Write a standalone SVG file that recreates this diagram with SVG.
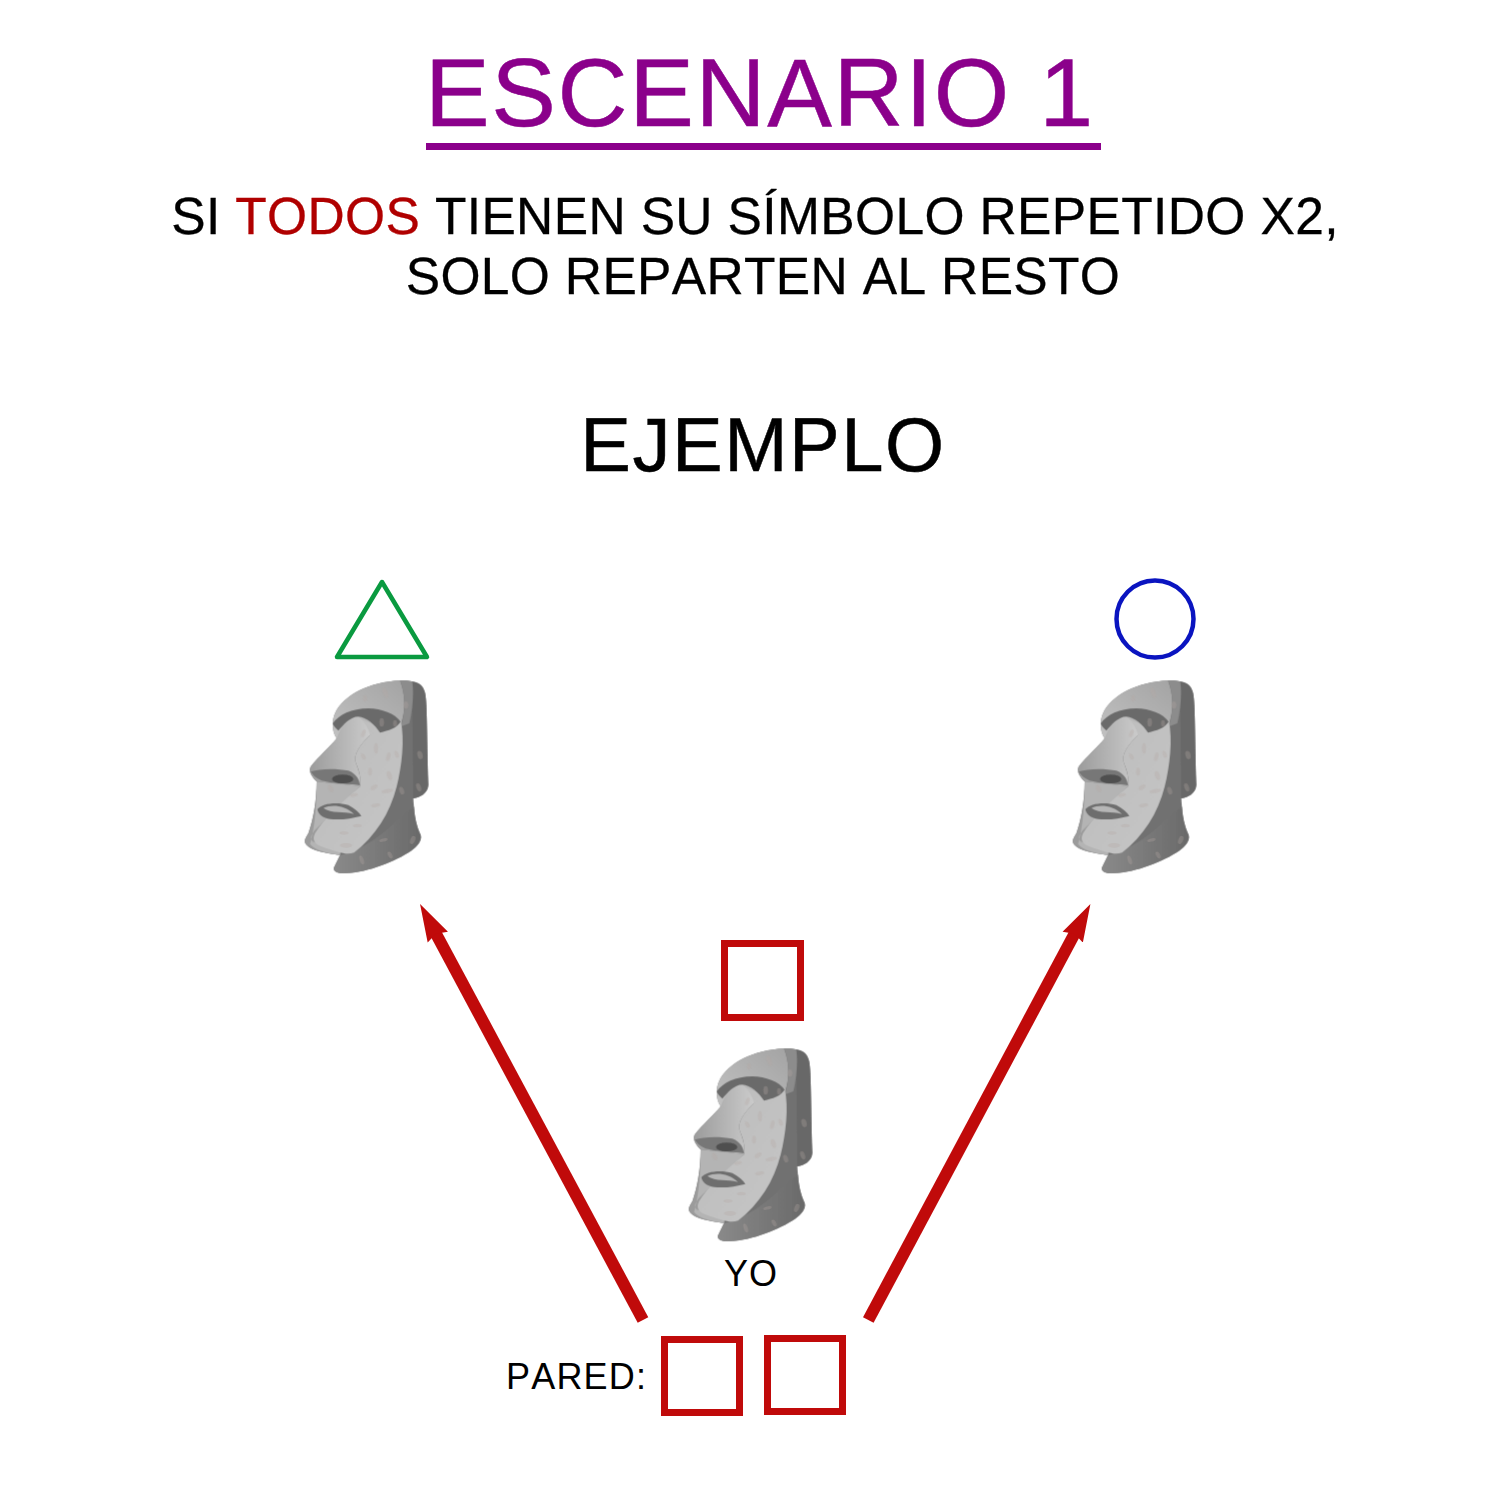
<svg xmlns="http://www.w3.org/2000/svg" width="1500" height="1500" viewBox="0 0 1500 1500">
<style>
text{font-family:"Liberation Sans",Arial,sans-serif;fill:#000;font-kerning:none}
.sq{fill:none;stroke:#c00a0a;stroke-width:7}
.arrow{fill:none;stroke:#c00a0a;stroke-width:12;marker-end:url(#head)}
.sp{fill:#b5a8a3;opacity:.3}
</style>
<defs>
<marker id="head" markerUnits="userSpaceOnUse" markerWidth="38" markerHeight="24" refX="7" refY="12" orient="auto" viewBox="0 0 38 24"><path d="M0 0.500 L37.600 12 L0 23.500 L4 12Z" fill="#c00a0a"/></marker>
<filter id="soft" x="-5%" y="-5%" width="110%" height="110%"><feGaussianBlur stdDeviation="1.800"/></filter>
<linearGradient id="face" x1="0" y1="0" x2="1" y2="1"><stop offset="0" stop-color="#bcbcbc"/><stop offset="1" stop-color="#c6c6c6"/></linearGradient>
<linearGradient id="nose" x1="0" y1="0" x2="1" y2="0"><stop offset="0" stop-color="#9c9c9c"/><stop offset="1" stop-color="#cbcbcb"/></linearGradient>
<linearGradient id="top" x1="0" y1="1" x2="1" y2="0"><stop offset="0" stop-color="#c2c2c2"/><stop offset="1" stop-color="#a4a4a4"/></linearGradient>
<linearGradient id="neck" x1="0" y1="0" x2="1" y2="0"><stop offset="0" stop-color="#8a8a8a"/><stop offset="1" stop-color="#6a6a6a"/></linearGradient>
<g id="moai" filter="url(#soft)">
<path fill="#717171" d="M360 62C395 60 425 68 434 95C442 120 440 200 445 375C443 400 420 412 400 415C402 450 405 490 422 525C428 545 405 565 385 578C330 612 250 640 190 640C170 640 158 632 162 622L180 585C140 580 95 572 80 555C70 545 75 535 85 520C100 480 110 420 110 365C95 350 85 335 92 320C115 290 150 260 170 235C155 215 155 180 165 160C190 105 270 65 360 62Z"/>
<path fill="url(#neck)" d="M180 585C230 575 300 535 350 480L402 440C403 470 410 500 422 525C428 545 405 565 385 578C330 612 250 640 190 640C170 640 158 632 162 622Z"/>
<path fill="#686868" d="M395 65C420 66 430 80 434 95C442 120 440 200 445 375C443 400 420 412 400 415L398 200Z"/>
<path fill="url(#top)" d="M360 62C375 100 380 150 360 200L170 235C155 215 155 180 165 160C190 105 270 65 360 62Z"/>
<path fill="#8c8c8c" d="M360 62C375 60 385 62 397 65C402 100 398 150 388 190L362 200C378 150 375 100 360 62Z"/>
<path fill="#9b9b9b" d="M110 365L240 380C250 430 200 530 180 585C140 580 95 572 80 555C70 545 75 535 85 520C100 480 110 420 110 365Z"/>
<path fill="#b4b4b4" d="M110 365L240 378L110 505C90 525 90 535 98 545L180 565L180 585C145 580 105 572 90 552C105 500 110 430 110 365Z"/>
<path fill="url(#face)" d="M362 180C375 240 365 320 350 380C330 460 285 530 222 578C200 585 180 580 125 560C105 553 95 540 105 520C130 480 180 430 240 380C245 340 230 320 225 300C225 270 250 245 270 225C230 205 230 180 230 170C270 195 320 205 362 180Z"/>
<path fill="url(#nose)" d="M92 320C115 290 150 260 170 235C185 195 205 168 232 170C250 178 265 205 270 225C250 245 225 270 225 300C230 320 245 345 240 378L110 365C95 350 85 335 92 320Z"/>
<path fill="#6b6b6b" d="M158 190C175 165 215 145 265 145C305 146 345 160 362 185C350 205 325 212 300 218C285 195 260 172 235 170C210 170 190 195 175 212C168 205 160 198 158 190Z"/>
<path fill="#777" d="M92 335C120 325 170 325 205 332C230 342 238 360 240 376C210 372 160 372 125 362C108 355 98 345 92 335Z"/>
<ellipse cx="188" cy="357" rx="32" ry="13" fill="#4f4f4f"/>
<path fill="#6e6e6e" d="M112 448C125 430 170 425 205 435C225 445 238 458 244 468C215 474 190 480 160 478C135 478 115 465 112 448Z"/>
<path fill="#b6b6b6" d="M130 444C155 432 195 436 222 462C190 452 155 462 130 444Z"/>
<g class="sp"><ellipse cx="316" cy="98" rx="7" ry="17" transform="rotate(-20 316 98)"/><ellipse cx="255" cy="115" rx="6" ry="10"/><ellipse cx="378" cy="135" rx="7" ry="11"/><ellipse cx="305" cy="187" rx="7" ry="13"/><ellipse cx="345" cy="190" rx="6" ry="10"/><ellipse cx="250" cy="220" rx="6" ry="12" transform="rotate(20 250 220)"/><ellipse cx="288" cy="265" rx="6" ry="16"/><ellipse cx="250" cy="290" rx="6" ry="10" transform="rotate(-30 250 290)"/><ellipse cx="325" cy="290" rx="6" ry="13" transform="rotate(15 325 290)"/><ellipse cx="350" cy="283" rx="6" ry="11" transform="rotate(-20 350 283)"/><ellipse cx="420" cy="285" rx="8" ry="13" transform="rotate(-15 420 285)"/><ellipse cx="270" cy="335" rx="6" ry="12"/><ellipse cx="328" cy="347" rx="7" ry="14" transform="rotate(-20 328 347)"/><ellipse cx="282" cy="382" rx="12" ry="6" transform="rotate(-35 282 382)"/><ellipse cx="322" cy="393" rx="17" ry="6" transform="rotate(-10 322 393)"/><ellipse cx="222" cy="405" rx="12" ry="5" transform="rotate(-15 222 405)"/><ellipse cx="152" cy="385" rx="7" ry="12" transform="rotate(-25 152 385)"/><ellipse cx="365" cy="392" rx="7" ry="12" transform="rotate(-20 365 392)"/><ellipse cx="416" cy="382" rx="7" ry="13" transform="rotate(-20 416 382)"/><ellipse cx="287" cy="436" rx="14" ry="5" transform="rotate(-10 287 436)"/><ellipse cx="232" cy="497" rx="13" ry="5"/><ellipse cx="192" cy="519" rx="13" ry="5"/><ellipse cx="198" cy="556" rx="18" ry="7"/><ellipse cx="310" cy="540" rx="13" ry="5" transform="rotate(-15 310 540)"/><ellipse cx="398" cy="540" rx="7" ry="13" transform="rotate(20 398 540)"/><ellipse cx="330" cy="585" rx="6" ry="11" transform="rotate(-30 330 585)"/><ellipse cx="245" cy="600" rx="6" ry="14" transform="rotate(-20 245 600)"/></g>
</g>
</defs>
<text id="title" x="425" y="126" font-size="97" letter-spacing="1.600" stroke="#8b008b" stroke-width=".5" style="fill:#8b008b">ESCENARIO 1</text>
<rect x="426" y="143" width="675" height="7" fill="#8b008b"/>
<text id="sub1" x="755" y="234" font-size="51.500" letter-spacing=".37" text-anchor="middle" stroke="#000" stroke-width=".3">SI <tspan stroke="#b00000" style="fill:#b00000">TODOS</tspan> TIENEN SU SÍMBOLO REPETIDO X2,</text>
<text id="sub2" x="763" y="294" font-size="51.500" letter-spacing=".35" text-anchor="middle" stroke="#000" stroke-width=".3">SOLO REPARTEN AL RESTO</text>
<text id="ejemplo" x="763" y="471" font-size="76" letter-spacing="1.500" text-anchor="middle" stroke="#000" stroke-width=".5">EJEMPLO</text>
<g id="connectors">
<path class="arrow" d="M643 1320L434.500 931"/>
<path class="arrow" d="M868.300 1320L1076 931"/>
</g>
<g id="node-triangle"><path d="M382 582L427 657H337Z" fill="none" stroke="#0a9a40" stroke-width="4.500" stroke-linejoin="round"/></g>
<g id="node-moai-left"><use href="#moai" transform="translate(280 660) scale(.3333)"/></g>
<g id="node-circle"><circle cx="1155" cy="619" r="38.500" fill="none" stroke="#0a14c0" stroke-width="4.500"/></g>
<g id="node-moai-right"><use href="#moai" transform="translate(1048 660) scale(.3333)"/></g>
<g id="node-square"><rect class="sq" x="724.500" y="943.500" width="76" height="74"/></g>
<g id="node-moai-yo"><use href="#moai" transform="translate(664 1028) scale(.3333)"/></g>
<text id="yo" x="751" y="1286" font-size="36" letter-spacing="1" text-anchor="middle">YO</text>
<g id="node-pared">
<text x="506" y="1389" font-size="36" letter-spacing="1.200">PARED:</text>
<rect class="sq" x="664.500" y="1339.500" width="75" height="73"/>
<rect class="sq" x="767.500" y="1338.500" width="75" height="73"/>
</g>
</svg>
